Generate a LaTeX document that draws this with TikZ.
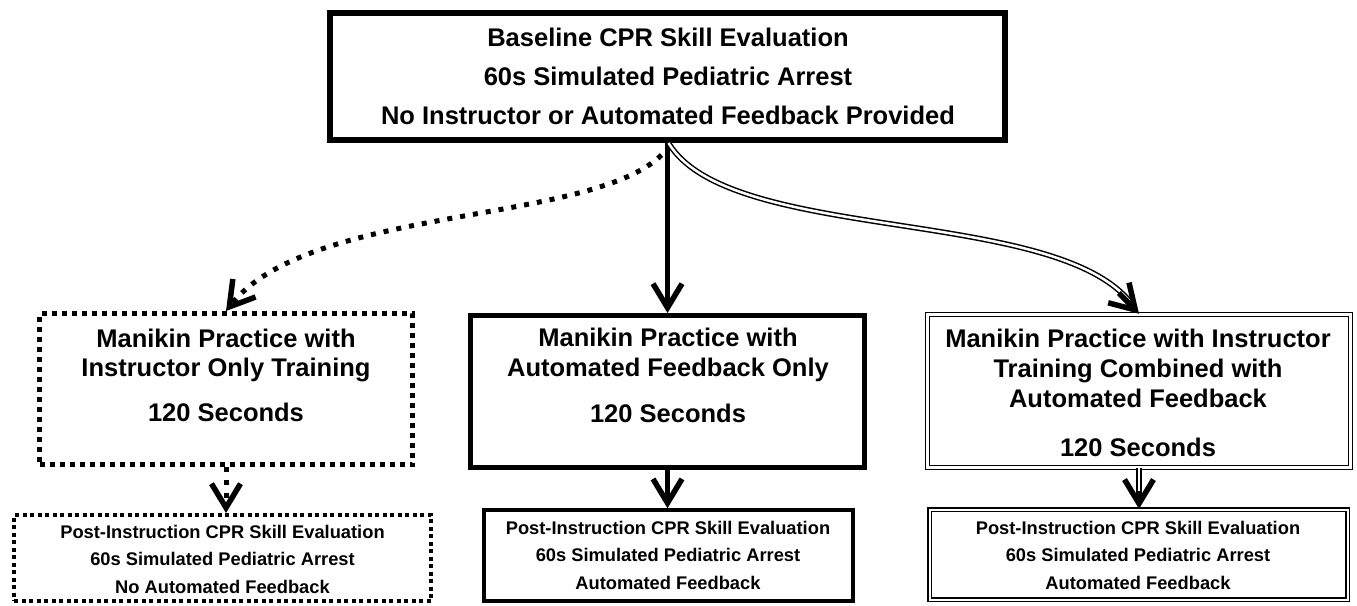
\documentclass[tikz,border=0pt]{standalone}
\usepackage{fontspec}
\setmainfont{Liberation Sans}
\usetikzlibrary{arrows.meta}
\begin{document}
\begin{tikzpicture}[x=1pt,y=-1pt,
  bigtxt/.style={font=\fontsize{25.5}{30}\selectfont\bfseries, align=center, inner sep=0pt, anchor=north},
  smalltxt/.style={font=\fontsize{18.3}{27.5}\selectfont\bfseries, align=center, inner sep=0pt, anchor=north},
  boxshape/.style={rectangle, inner sep=0pt, draw=black, line join=miter},
  topbox/.style={boxshape, line width=6pt},
  solidbox/.style={boxshape, line width=5pt},
  solidboxsmall/.style={boxshape, line width=3.5pt},
  dotbox/.style={boxshape, line width=5pt, dash pattern=on 5pt off 5pt},
  dotboxsmall/.style={boxshape, line width=4pt, dash pattern=on 4pt off 3.5pt},
  dblbox/.style={boxshape, line width=1.5pt, double=white, double distance=2.5pt},
  dblboxsmall/.style={boxshape, line width=1.3pt, double=white, double distance=2pt},
  vhead/.style={-{Straight Barb[length=24pt,width=29pt,line width=5.5pt]}},
  solidarrow/.style={vhead, line width=4.5pt},
  dotarrow/.style={vhead, line width=5pt, dash pattern=on 5pt off 8pt},
  dblunder/.style={vhead, line width=5.5pt},
  dblline/.style={line width=1.5pt, double=white, double distance=2.5pt},
]
\useasboundingbox (0,0) rectangle (1357,605);

% boxes
\node[topbox, minimum width=675pt, minimum height=127pt] (top) at (667.5,76.5) {};
\node[dotbox, minimum width=373pt, minimum height=151pt] (lmid) at (226,389) {};
\node[solidbox, minimum width=394pt, minimum height=152pt] (cmid) at (667.5,391.5) {};
\node[dblbox, minimum width=423pt, minimum height=153pt] (rmid) at (1139,391) {};
\node[dotboxsmall, minimum width=417pt, minimum height=86pt] (lbot) at (222.5,558) {};
\node[solidboxsmall, minimum width=369pt, minimum height=91pt] (cbot) at (668.5,555.5) {};
\node[dblboxsmall, minimum width=418pt, minimum height=90pt] (rbot) at (1138.5,554.5) {};

% texts
\node[bigtxt, font=\fontsize{25.5}{39}\selectfont\bfseries] (toptxt) at (668,27.5)
  {Baseline CPR Skill Evaluation\\60s Simulated Pediatric Arrest\\No Instructor or Automated Feedback Provided};
\node[bigtxt, font=\fontsize{25.5}{29}\selectfont\bfseries] (lmidtxt) at (226,328.5)
  {Manikin Practice with\\Instructor Only Training\\[16pt]120 Seconds};
\node[bigtxt] (cmidtxt) at (668,327.5)
  {Manikin Practice with\\Automated Feedback Only\\[16pt]120 Seconds};
\node[bigtxt] (rmidtxt) at (1138,328.5)
  {Manikin Practice with Instructor\\Training Combined with\\Automated Feedback\\[19pt]120 Seconds};
\node[smalltxt] (lbottxt) at (222.5,525)
  {Post-Instruction CPR Skill Evaluation\\60s Simulated Pediatric Arrest\\No Automated Feedback};
\node[smalltxt] (cbottxt) at (668,521)
  {Post-Instruction CPR Skill Evaluation\\60s Simulated Pediatric Arrest\\Automated Feedback};
\node[smalltxt] (rbottxt) at (1138,521)
  {Post-Instruction CPR Skill Evaluation\\60s Simulated Pediatric Arrest\\Automated Feedback};

% connectors from the top box
\draw[solidarrow] (top.south) -- (cmid.north);
\draw[dotarrow] ([xshift=-6pt,yshift=-12pt]top.south) .. controls (590,225) and (310,205) .. (lmid.north);
\draw[dblline, shorten >=10pt] ([xshift=1pt]top.south) .. controls (730,245) and (1060,205) .. (rmid.north)
  coordinate[pos=0.93] (dbltail);
\draw[dblunder] (dbltail) -- (rmid.north);

% connectors to the bottom boxes
\draw[dotarrow] (lmid.south) -- (lmid.south |- lbot.north);
\draw[solidarrow] (cmid.south) -- (cmid.south |- cbot.north);
\draw[dblline, shorten >=10pt] (rmid.south) -- (rmid.south |- rbot.north) coordinate[pos=0.55] (dbltail2);
\draw[dblunder] (dbltail2) -- (rmid.south |- rbot.north);
\end{tikzpicture}
\end{document}
